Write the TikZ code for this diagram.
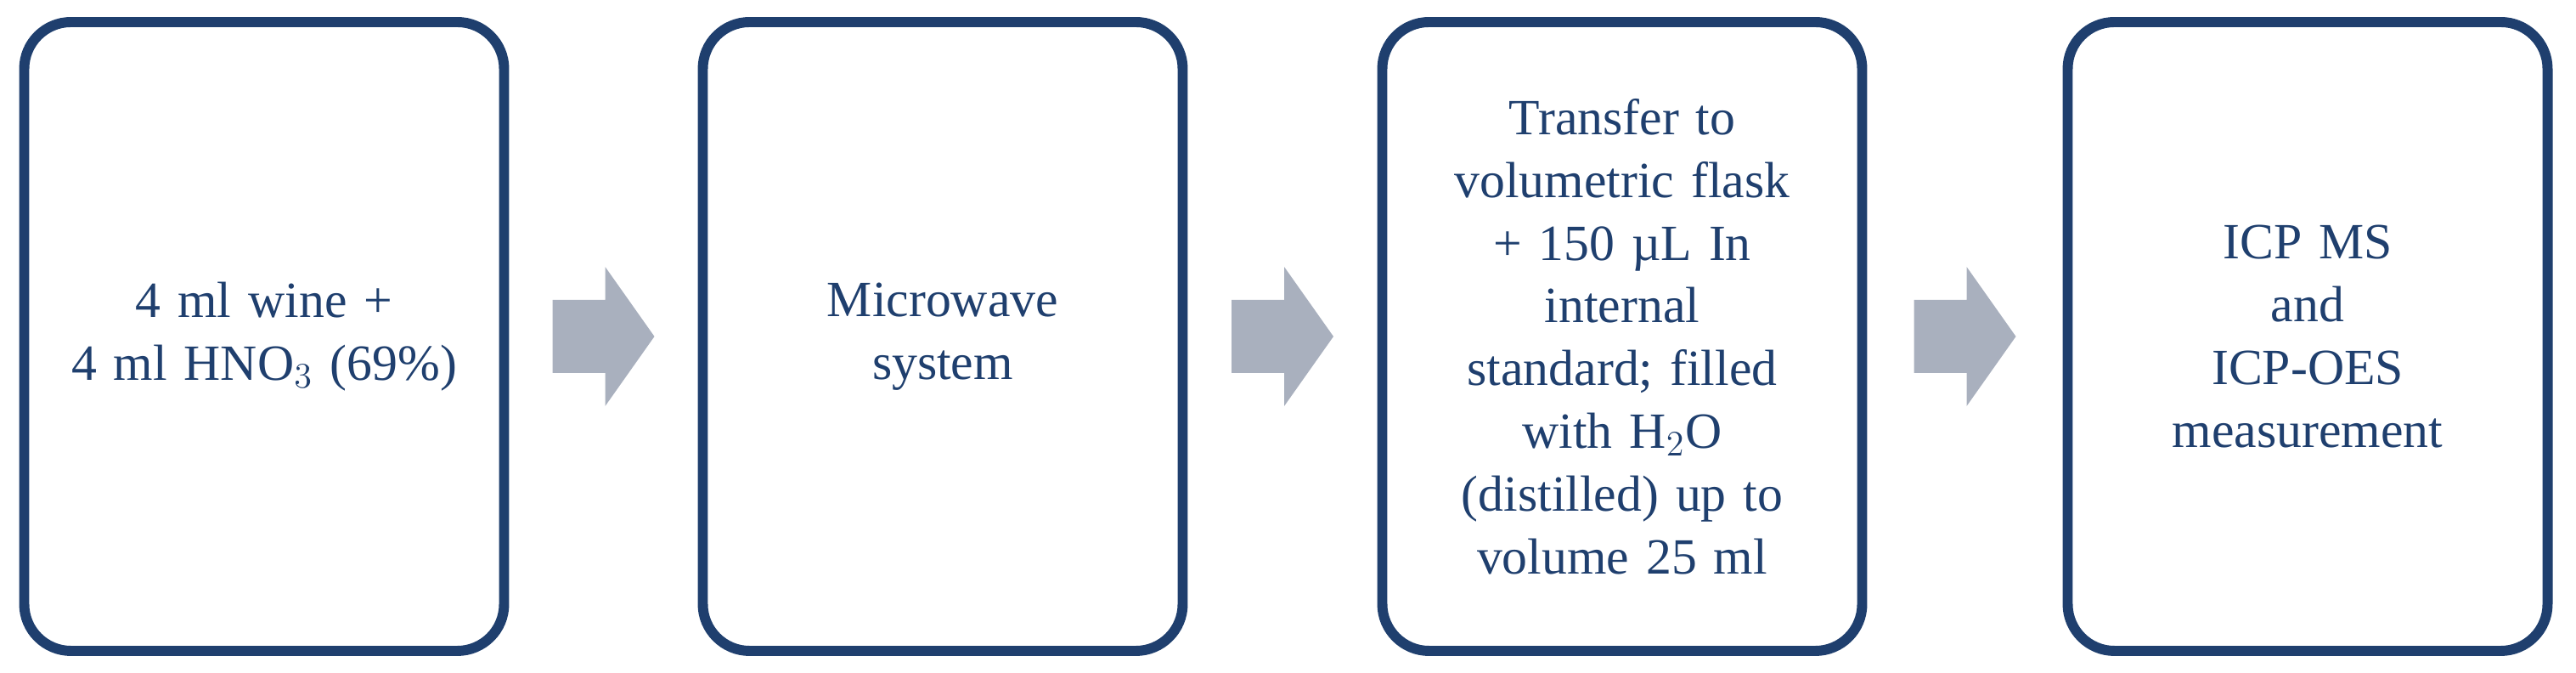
\documentclass[tikz,border=0pt]{standalone}
\usepackage{fontspec}
\setmainfont{Liberation Serif}
\usetikzlibrary{positioning,calc}
\definecolor{stepblue}{HTML}{1F3F6E}
\definecolor{arrowgrey}{HTML}{A9B0BE}
\tikzset{
  stage/.style={draw=stepblue,line width=3.4pt,rounded corners=0.55cm,
    minimum width=5.65cm,minimum height=7.4cm,text width=5.2cm,align=center,
    text=stepblue,font=\fontsize{17}{21}\selectfont},
  flow/.style={fill=arrowgrey,draw=none}
}
\newcommand\flowarrow[1]{%
  \fill[flow] ($(#1)+(-0.6,-0.43)$) -- ++(0.62,0) -- ++(0,-0.39) -- ($(#1)+(0.6,0)$)
    -- ($(#1)+(0.02,0.82)$) -- ++(0,-0.39) -- ++(-0.62,0) -- cycle;}
\begin{document}
\begin{tikzpicture}
  \useasboundingbox (0,0) rectangle (30.33,7.92);
  \node[stage] (wine) at (3.11,3.96) {4 ml wine +\\4 ml HNO$_3$ (69\%)};
  \node[stage] (micro) at (11.1,3.96) {Microwave\\system};
  \node[stage] (flask) at (19.1,3.96) {Transfer to\\volumetric flask\\+ 150~µL In\\internal\\standard; filled\\with H$_2$O\\(distilled) up to\\volume 25 ml};
  \node[stage] (icp) at (27.17,3.96) {ICP MS\\and\\ICP-OES\\measurement};
  % connecting arrows
  \coordinate (a1) at ($(wine.east)!0.5!(micro.west)$);
  \coordinate (a2) at ($(micro.east)!0.5!(flask.west)$);
  \coordinate (a3) at ($(flask.east)!0.5!(icp.west)$);
  \flowarrow{a1}
  \flowarrow{a2}
  \flowarrow{a3}
\end{tikzpicture}
\end{document}
